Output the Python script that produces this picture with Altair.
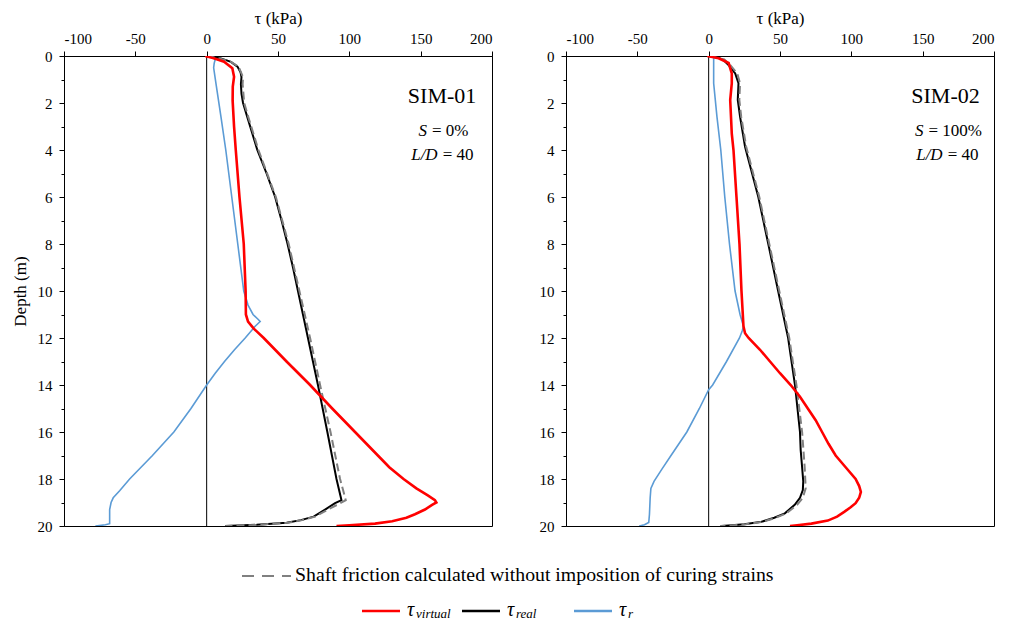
import altair as alt
import pandas as pd

FONT = "Liberation Serif"

# ---------------- SIM-01 (S = 0%) ----------------
s1_real_depth = [0, 0.03, 0.1, 0.25, 0.45, 0.7, 0.9, 1.2, 1.6, 2.0, 2.6, 3.2, 4, 5, 6, 7, 8, 9, 10, 11, 12, 13, 14, 15, 16, 17, 18, 18.9, 19.03, 19.3, 19.6, 19.75, 19.86, 19.95, 20]
s1_real_tau = [0, 3, 10, 17, 21.6, 23.8, 24.4, 24.0, 24.4, 25.5, 28.5, 31.5, 35.5, 42, 48, 52.5, 56.7, 60.5, 64, 67.5, 71, 74.5, 78, 81.3, 84.6, 87.8, 91, 94.5, 90, 83, 75, 66, 56, 35, 13]

s1_nocure_depth = [0, 0.1, 0.25, 0.45, 0.9, 1.2, 2.0, 2.6, 4, 6, 8, 10, 12, 14, 16, 18, 18.9, 19.05, 19.3, 19.6, 19.75, 19.86, 19.95, 20]
s1_nocure_tau = [0, 9, 17, 22.3, 25.5, 25.2, 26.3, 29.2, 36.3, 48.5, 57.5, 65, 72.5, 79.5, 86.8, 93.5, 97.5, 93, 85, 76, 67, 57, 36, 13]

s1_virtual_depth = [0, 0.1, 0.24, 0.52, 0.88, 1.3, 1.9, 3, 4, 6, 8, 10, 11, 11.3, 11.6, 12, 13, 14, 15, 16, 17, 17.5, 18, 18.4, 18.7, 18.9, 19.0, 19.1, 19.3, 19.5, 19.65, 19.8, 19.9, 19.97, 20]
s1_virtual_tau = [-1, 5, 12.2, 18, 19.2, 18.3, 18.2, 19.2, 20.4, 23, 26, 27.3, 27.5, 29, 33, 40, 56, 72.5, 88, 104, 120, 128, 138, 147, 155, 160, 161, 158, 153, 146, 140, 130, 118, 100, 91]

s1_r_depth = [0, 0.05, 0.15, 0.3, 0.5, 1.16, 2.58, 4, 6, 8, 10, 10.6, 11, 11.2, 11.3, 11.5, 12, 12.5, 13, 13.5, 14, 15, 16, 17, 18, 18.5, 18.8, 19, 19.3, 19.9, 19.95, 20]
s1_r_tau = [0, 4, 6, 5.3, 4.9, 6.5, 10, 13.4, 17.6, 21.8, 26, 29, 32.5, 36, 37.5, 34, 27, 19.5, 12.5, 6, 0, -11, -23, -38, -54, -61, -65.5, -67, -68, -68, -71, -78]

# ---------------- SIM-02 (S = 100%) ----------------
s2_real_depth = [0, 0.03, 0.15, 0.38, 0.74, 1.16, 1.87, 2.58, 3.86, 6, 8, 10, 12, 14, 16, 16.77, 17.5, 18.1, 18.47, 18.8, 19.1, 19.46, 19.65, 19.82, 19.93, 20]
s2_real_tau = [0, 4.6, 10, 13.9, 18.6, 20.9, 20.4, 22, 25.5, 34.8, 41.8, 48.7, 55.7, 60.5, 64, 64.5, 65.5, 66.3, 66, 64, 60.3, 53.4, 46, 37, 25, 9.3]

s2_nocure_depth = [0, 0.15, 0.38, 0.74, 1.16, 1.87, 2.58, 3.86, 6, 8, 10, 12, 14, 16, 17.5, 18.4, 18.8, 19.1, 19.46, 19.65, 19.82, 19.93, 20]
s2_nocure_tau = [0, 11, 15, 20, 22, 21.5, 22.8, 26.3, 35.5, 42.5, 49.5, 56.5, 61.5, 65.5, 67.3, 68, 66, 62, 54.5, 47, 38, 26, 8]

s2_virtual_depth = [0, 0.1, 0.3, 0.74, 1.16, 1.87, 3.3, 4, 6, 8, 10, 11.5, 11.8, 12, 12.5, 13, 13.5, 14, 14.5, 15, 15.5, 16, 16.5, 17, 17.5, 18, 18.3, 18.55, 18.8, 19.03, 19.2, 19.4, 19.6, 19.77, 19.9, 19.97, 20]
s2_virtual_tau = [-1, 7, 14, 16.2, 16.2, 15.1, 16.2, 17.4, 19.5, 21.6, 23, 24.4, 25.5, 28, 36, 43, 50, 57.5, 64, 69.5, 75, 79.5, 84, 89, 96, 103, 105.5, 106.7, 105.5, 103, 99.5, 95, 90, 83.5, 72, 62, 57]

s2_r_depth = [0, 0.05, 1.16, 2.58, 4, 6, 8, 10, 11, 11.5, 11.7, 12, 13, 14, 14.2, 15, 16, 17, 17.6, 18.1, 18.4, 18.8, 19.5, 19.85, 19.95, 20]
s2_r_tau = [0, 3.5, 3.5, 5.8, 8.5, 11.3, 14.6, 18.5, 22, 24.4, 23.5, 21.6, 12.5, 2.8, 0, -6.5, -15.3, -26.4, -33, -38.3, -40.5, -41, -41.5, -42, -45, -48.7]

# ---------------- annotations ----------------
panel_names = ["SIM-01", "SIM-02"]
panel_s = ["0%", "100%"]
x_ticks = [-100, -50, 0, 50, 100, 150, 200]
legend_labels = ["Shaft friction calculated without imposition of curing strains"]
legend_subs = ["virtual", "real", "r"]
legend_colors = ["#ff0000", "#000000", "#5b9bd5"]

RED, BLACK, GRAY, BLUE = "#ff0000", "#000000", "#808080", "#5b9bd5"
PW, PH = 428, 470

xscale = alt.Scale(domain=[-100, 200], nice=False, zero=False)
yscale = alt.Scale(domain=[0, 20], reverse=True, nice=False, zero=False)

xaxis = alt.Axis(
    orient="top", values=x_ticks, title="τ (kPa)", titleFont=FONT,
    titleFontSize=17, titleFontWeight="normal", titlePadding=4, titleColor="black",
    labelFont=FONT, labelFontSize=15, labelPadding=5, labelColor="black",
    labelExpr="'' + datum.value", tickSize=5, tickColor="black",
    domainColor="black", grid=False,
)


def yaxis(with_title):
    kw = dict(
        values=list(range(21)), labelFont=FONT, labelFontSize=15, labelColor="black",
        labelPadding=7, labelExpr="datum.value % 2 == 0 ? '' + datum.value : ''",
        tickSize={"condition": {"test": "datum.value % 2 == 0", "value": 5}, "value": 3},
        tickColor="black", domainColor="black", grid=False,
    )
    if with_title:
        kw.update(title="Depth (m)", titleFont=FONT, titleFontSize=17,
                  titleFontWeight="normal", titlePadding=8, titleColor="black")
    else:
        kw.update(title=None)
    return alt.Axis(**kw)


def frame(depth, tau):
    return pd.DataFrame({"depth": depth, "tau": tau, "i": list(range(len(depth)))})


def panel(idx, series, with_title):
    ya = yaxis(with_title)
    X = alt.X("tau:Q", scale=xscale, axis=xaxis)
    Y = alt.Y("depth:Q", scale=yscale, axis=ya)
    zero = alt.Chart(pd.DataFrame({"tau": [0]})).mark_rule(
        color="black", strokeWidth=1).encode(x=X)
    layers = [zero]
    styles = {
        "virtual": dict(color=RED, strokeWidth=2.6),
        "real": dict(color=BLACK, strokeWidth=2),
        "nocure": dict(color=GRAY, strokeWidth=2, strokeDash=[8, 4]),
        "r": dict(color=BLUE, strokeWidth=1.6),
    }
    for key in ["real", "nocure", "r", "virtual"]:
        d, t = series[key]
        layers.append(alt.Chart(frame(d, t)).mark_line(clip=True, **styles[key]).encode(
            x=X, y=Y, order=alt.Order("i:Q")))

    name_tau = [165, 166][idx]
    s_tau = [154.4, 150.5][idx]
    ld_tau = [161.9, 164][idx]
    ann = pd.DataFrame({"tau": [name_tau], "depth": [1.7], "t": [panel_names[idx]]})
    layers.append(alt.Chart(ann).mark_text(font=FONT, fontSize=22, color="black").encode(
        x=X, y=Y, text="t:N"))
    a1 = pd.DataFrame({"tau": [s_tau, ld_tau], "depth": [3.19, 4.21], "t": ["S", "L/D"]})
    layers.append(alt.Chart(a1).mark_text(font=FONT, fontSize=17, fontStyle="italic", align="right", color="black").encode(
        x=X, y=Y, text="t:N"))
    a2 = pd.DataFrame({"tau": [s_tau, ld_tau], "depth": [3.19, 4.21],
                       "t": ["= " + panel_s[idx], "= 40"]})
    layers.append(alt.Chart(a2).mark_text(font=FONT, fontSize=17, align="left", dx=5, color="black").encode(
        x=X, y=Y, text="t:N"))
    return alt.layer(*layers).properties(width=PW, height=PH)


p1 = panel(0, {"real": (s1_real_depth, s1_real_tau), "nocure": (s1_nocure_depth, s1_nocure_tau),
               "virtual": (s1_virtual_depth, s1_virtual_tau), "r": (s1_r_depth, s1_r_tau)}, True)
p2 = panel(1, {"real": (s2_real_depth, s2_real_tau), "nocure": (s2_nocure_depth, s2_nocure_tau),
               "virtual": (s2_virtual_depth, s2_virtual_tau), "r": (s2_r_depth, s2_r_tau)}, False)

# ---------------- custom legend (page coordinates shifted by legend origin) ----------------
X0, Y0 = 62, 533
dummy = pd.DataFrame({"a": [0]})
leg = []
leg.append(alt.Chart(dummy).mark_rule(color=GRAY, strokeWidth=2, strokeDash=[12, 8]).encode(
    x=alt.value(240 - X0), x2=alt.value(289 - X0), y=alt.value(573 - Y0)))
leg.append(alt.Chart(dummy).mark_text(font=FONT, fontSize=19.8, align="left", baseline="middle", color="black").encode(
    x=alt.value(293 - X0), y=alt.value(572 - Y0), text=alt.value(legend_labels[0])))
starts = [360, 460, 572]
for k in range(3):
    xs = starts[k]
    leg.append(alt.Chart(dummy).mark_rule(color=legend_colors[k], strokeWidth=2.5).encode(
        x=alt.value(xs - X0), x2=alt.value(xs + 38 - X0), y=alt.value(608 - Y0)))
    leg.append(alt.Chart(dummy).mark_text(font=FONT, fontSize=20, fontStyle="italic", align="left", baseline="middle", color="black").encode(
        x=alt.value(xs + 45 - X0), y=alt.value(607 - Y0), text=alt.value("τ")))
    leg.append(alt.Chart(dummy).mark_text(font=FONT, fontSize=13, fontStyle="italic", align="left", baseline="middle", color="black").encode(
        x=alt.value(xs + 54 - X0), y=alt.value(611 - Y0), text=alt.value(legend_subs[k])))
legend = alt.layer(*leg).properties(width=880, height=70, view=alt.ViewBackground(stroke="transparent"))

chart = alt.vconcat(
    alt.hconcat(p1, p2, spacing=45),
    legend,
    spacing=0,
).properties(
    padding={"left": 2, "top": 0, "right": 0, "bottom": 0},
    background="white",
).configure(font=FONT).configure_view(stroke="black", strokeWidth=1)

chart.save("out.html", embed_options={"renderer": "svg", "actions": False})
